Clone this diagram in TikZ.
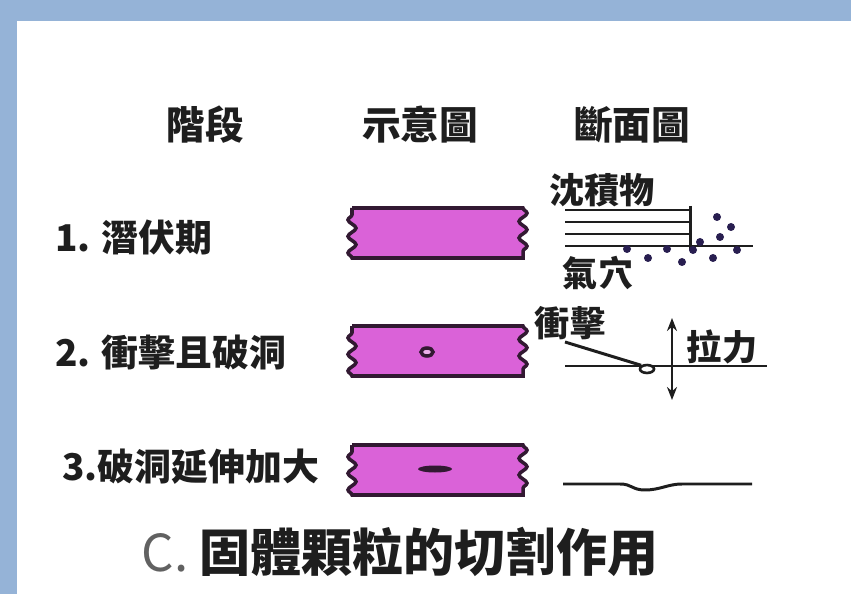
\documentclass[tikz,border=0pt]{standalone}
\usepackage{fontspec}
\setmainfont{Noto Sans CJK TC}
\usepackage{xcolor}
\usetikzlibrary{arrows.meta,decorations.pathmorphing,shapes.geometric}
\definecolor{frameblue}{RGB}{149,179,215}
\definecolor{grainpink}{RGB}{218,98,216}
\definecolor{grainedge}{RGB}{50,25,50}
\definecolor{dotblue}{RGB}{40,30,80}
\definecolor{inkgray}{RGB}{30,30,30}

\begin{document}
\begin{tikzpicture}[x=0.02cm, y=-0.02cm,
    head/.style={font=\fontsize{22pt}{26pt}\selectfont\bfseries, text=inkgray},
    stage/.style={font=\fontsize{21pt}{24pt}\selectfont\bfseries, text=inkgray, anchor=west},
    tag/.style={font=\fontsize{20pt}{24pt}\selectfont\bfseries, text=inkgray, inner sep=0pt},
    bar/.style={draw=grainedge, fill=grainpink, line width=2pt},
    edge/.style={decoration={snake, segment length=0.33cm, amplitude=0.08cm}},
    layer/.style={line width=1.7pt, draw=inkgray},
    arr/.style={{Stealth[length=2.6mm,width=2mm]}-{Stealth[length=2.6mm,width=2mm]}, line width=1.5pt, inkgray}]
  % page and frame
  \useasboundingbox (0,0) rectangle (851,594);
  \fill[white] (0,0) rectangle (851,594);
  \fill[frameblue] (0,0) rectangle (851,21);
  \fill[frameblue] (0,0) rectangle (17,594);

  % column heads
  \node[head] (hstage) at (205,125) {階段};
  \node[head] (hsketch) at (420,125) {示意圖};
  \node[head] (hcut) at (632,125) {斷面圖};

  % stages
  \node[stage] (s1) at (49,237) {1. 潛伏期};
  \node[stage] (s2) at (49,352) {2. 衝擊且破洞};
  \node[stage] (s3) at (56,467) {3.破洞延伸加大};

  % pipe wall strips
  \foreach \y in {208,326,445}
    \draw[bar] (352,\y) -- (523,\y) decorate[edge]{-- (523,\y+50)}
      -- (352,\y+50) decorate[edge]{-- (352,\y)} -- cycle;
  \draw[grainedge, line width=2pt, fill=grainpink!50] (427,352) ellipse (6 and 4);
  \fill[grainedge] (435,469) ellipse (17 and 3.5);

  % stage 1: deposits and gas pockets
  \node[tag] (dep) at (602,190) {沈積物};
  \node[tag] (gas) at (598,273) {氣穴};
  \foreach \y in {210,222,234}
    \draw[layer] (565,\y) -- (690,\y);
  \draw[layer] (565,246) -- (753,246);
  \draw[layer] (690,206) -- (690,250);
  \foreach \p in {(717,217),(731,227),(720,237),(700,242),(693,250),(667,249),
                  (627,249),(648,258),(682,262),(713,258),(737,250)}
    \fill[dotblue] \p circle (4);

  % stage 2: impact and tension
  \node[tag] (hit) at (570,323) {衝擊};
  \node[tag] (pull) at (722,347) {拉力};
  \coordinate (hitstart) at (565,342);
  \coordinate (up) at (672,318);
  \coordinate (down) at (672,400);
  \draw[layer] (565,366) -- (767,366);
  \node[draw=inkgray, line width=1.5pt, ellipse, fill=white, inner sep=0pt,
        minimum width=8pt, minimum height=4.5pt] (pit) at (647,369) {};
  \draw[layer] (hitstart) -- (pit.north west);
  \draw[arr] (up) -- (down);

  % stage 3: the hole grows
  \draw[layer] (563,484) -- (620,484) .. controls (632,484) and (632,490) .. (645,490)
    .. controls (660,490) and (668,484) .. (682,484) -- (752,484);

  % caption
  \node[font=\fontsize{29pt}{33pt}\selectfont, text=inkgray] (cap) at (400,552)
    {{\color{inkgray!70}C.} \bfseries 固體顆粒的切割作用};
\end{tikzpicture}
\end{document}
